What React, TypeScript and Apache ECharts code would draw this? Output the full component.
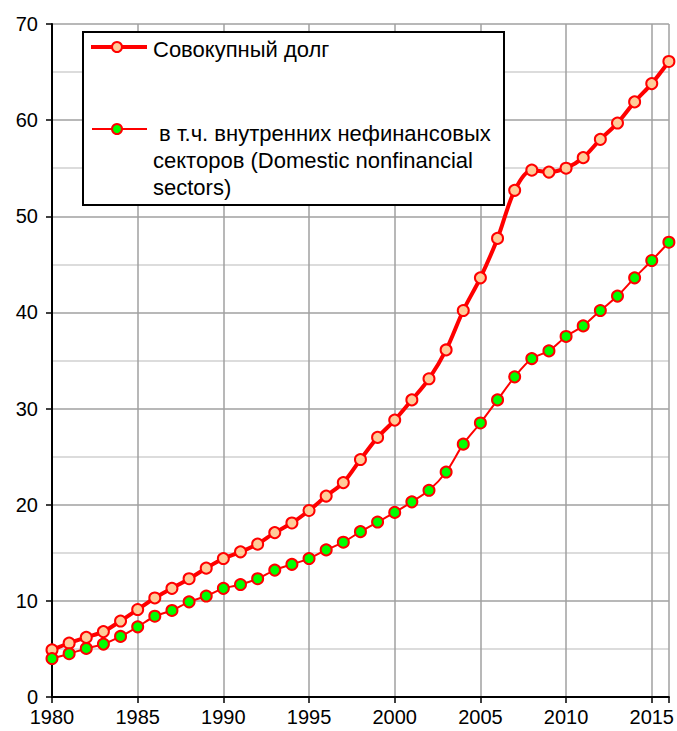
import React, { useEffect, useRef } from "react";
import * as echarts from "echarts";

const years = [1980,1981,1982,1983,1984,1985,1986,1987,1988,1989,1990,1991,1992,1993,1994,1995,1996,1997,1998,1999,2000,2001,2002,2003,2004,2005,2006,2007,2008,2009,2010,2011,2012,2013,2014,2015,2016];
const totalDebt = [4.9,5.6,6.2,6.8,7.9,9.1,10.3,11.3,12.3,13.4,14.4,15.1,15.9,17.1,18.1,19.4,20.9,22.3,24.7,27.0,28.8,30.9,33.1,36.1,40.2,43.6,47.7,52.7,54.8,54.6,55.0,56.1,58.0,59.7,61.9,63.8,66.1];
const domesticNonfin = [4.0,4.5,5.05,5.5,6.3,7.3,8.4,9.0,9.9,10.5,11.3,11.7,12.3,13.2,13.8,14.4,15.3,16.1,17.2,18.2,19.2,20.3,21.5,23.4,26.3,28.5,30.9,33.3,35.2,36.0,37.5,38.6,40.2,41.7,43.6,45.4,47.3];
const legendTotal = "Совокупный долг";
const legendDomestic = [" в т.ч. внутренних нефинансовых", "секторов (Domestic nonfinancial", "sectors)"];

const FONT = "Arial, 'Liberation Sans', sans-serif";

export default function App() {
  const ref = useRef<HTMLDivElement>(null);
  useEffect(() => {
    document.body.style.margin = "0";
    const chart = echarts.init(ref.current!, null, { renderer: "svg" });
    const legendGraphics: any[] = [
      {
        type: "rect",
        shape: { x: 83, y: 32, width: 421, height: 173 },
        style: { fill: "#fff", stroke: "#000", lineWidth: 2 },
        z: 100,
      },
      { type: "line", shape: { x1: 91, y1: 47, x2: 147, y2: 47 }, style: { stroke: "#ff0000", lineWidth: 4 }, z: 101 },
      { type: "circle", shape: { cx: 117, cy: 47, r: 5 }, style: { fill: "#FFCC99", stroke: "#ff0000", lineWidth: 2 }, z: 102 },
      { type: "text", x: 153, y: 49, style: { text: legendTotal, font: `22px ${FONT}`, fill: "#000", textVerticalAlign: "middle" }, z: 102 },
      { type: "line", shape: { x1: 92, y1: 129, x2: 147, y2: 129 }, style: { stroke: "#ff0000", lineWidth: 2 }, z: 101 },
      { type: "circle", shape: { cx: 117, cy: 129, r: 5 }, style: { fill: "#00ff00", stroke: "#ff0000", lineWidth: 2 }, z: 102 },
      ...legendDomestic.map((t, i) => ({
        type: "text",
        x: 153,
        y: 133 + i * 27,
        style: { text: t, font: `22px ${FONT}`, fill: "#000", textVerticalAlign: "middle" },
        z: 102,
      })),
    ];
    chart.setOption({
      animation: false,
      backgroundColor: "#fff",
      grid: { left: 52, right: 7, top: 24, bottom: 34, containLabel: false },
      xAxis: {
        type: "value",
        min: 1980,
        max: 2016,
        interval: 5,
        axisLine: { show: true, onZero: false, lineStyle: { color: "#000", width: 2 } },
        axisTick: { show: true, length: 6, lineStyle: { color: "#000", width: 1.5 } },
        axisLabel: {
          color: "#000",
          fontSize: 20,
          fontFamily: FONT,
          margin: 10,
          formatter: (v: number) => (v % 5 === 0 ? String(v) : ""),
        },
        splitLine: { show: true, lineStyle: { color: "#a0a0a0", width: 1.5 } },
      },
      yAxis: {
        type: "value",
        min: 0,
        max: 70,
        interval: 10,
        axisLine: { show: true, lineStyle: { color: "#000", width: 2 } },
        axisTick: { show: true, length: 6, lineStyle: { color: "#000", width: 1.5 } },
        axisLabel: { color: "#000", fontSize: 20, fontFamily: FONT, margin: 14 },
        splitLine: { show: true, lineStyle: { color: "#a0a0a0", width: 1.5 } },
        minorTick: { show: false, splitNumber: 2 },
        minorSplitLine: { show: true, lineStyle: { color: "#d0d0d0", width: 1.5 } },
      },
      graphic: legendGraphics,
      series: [
        {
          type: "line",
          name: legendTotal,
          data: years.map((y, i) => [y, totalDebt[i]]),
          smooth: 0.3,
          lineStyle: { color: "#ff0000", width: 4 },
          symbol: "circle",
          symbolSize: 11,
          itemStyle: { color: "#FFCC99", borderColor: "#ff0000", borderWidth: 2 },
          z: 3,
        },
        {
          type: "line",
          name: legendDomestic.join(" "),
          data: years.map((y, i) => [y, domesticNonfin[i]]),
          smooth: 0.3,
          lineStyle: { color: "#ff0000", width: 2 },
          symbol: "circle",
          symbolSize: 11,
          itemStyle: { color: "#00ff00", borderColor: "#ff0000", borderWidth: 2 },
          z: 4,
        },
      ],
    });
    return () => chart.dispose();
  }, []);
  return <div ref={ref} style={{ width: 677, height: 731 }} />;
}
